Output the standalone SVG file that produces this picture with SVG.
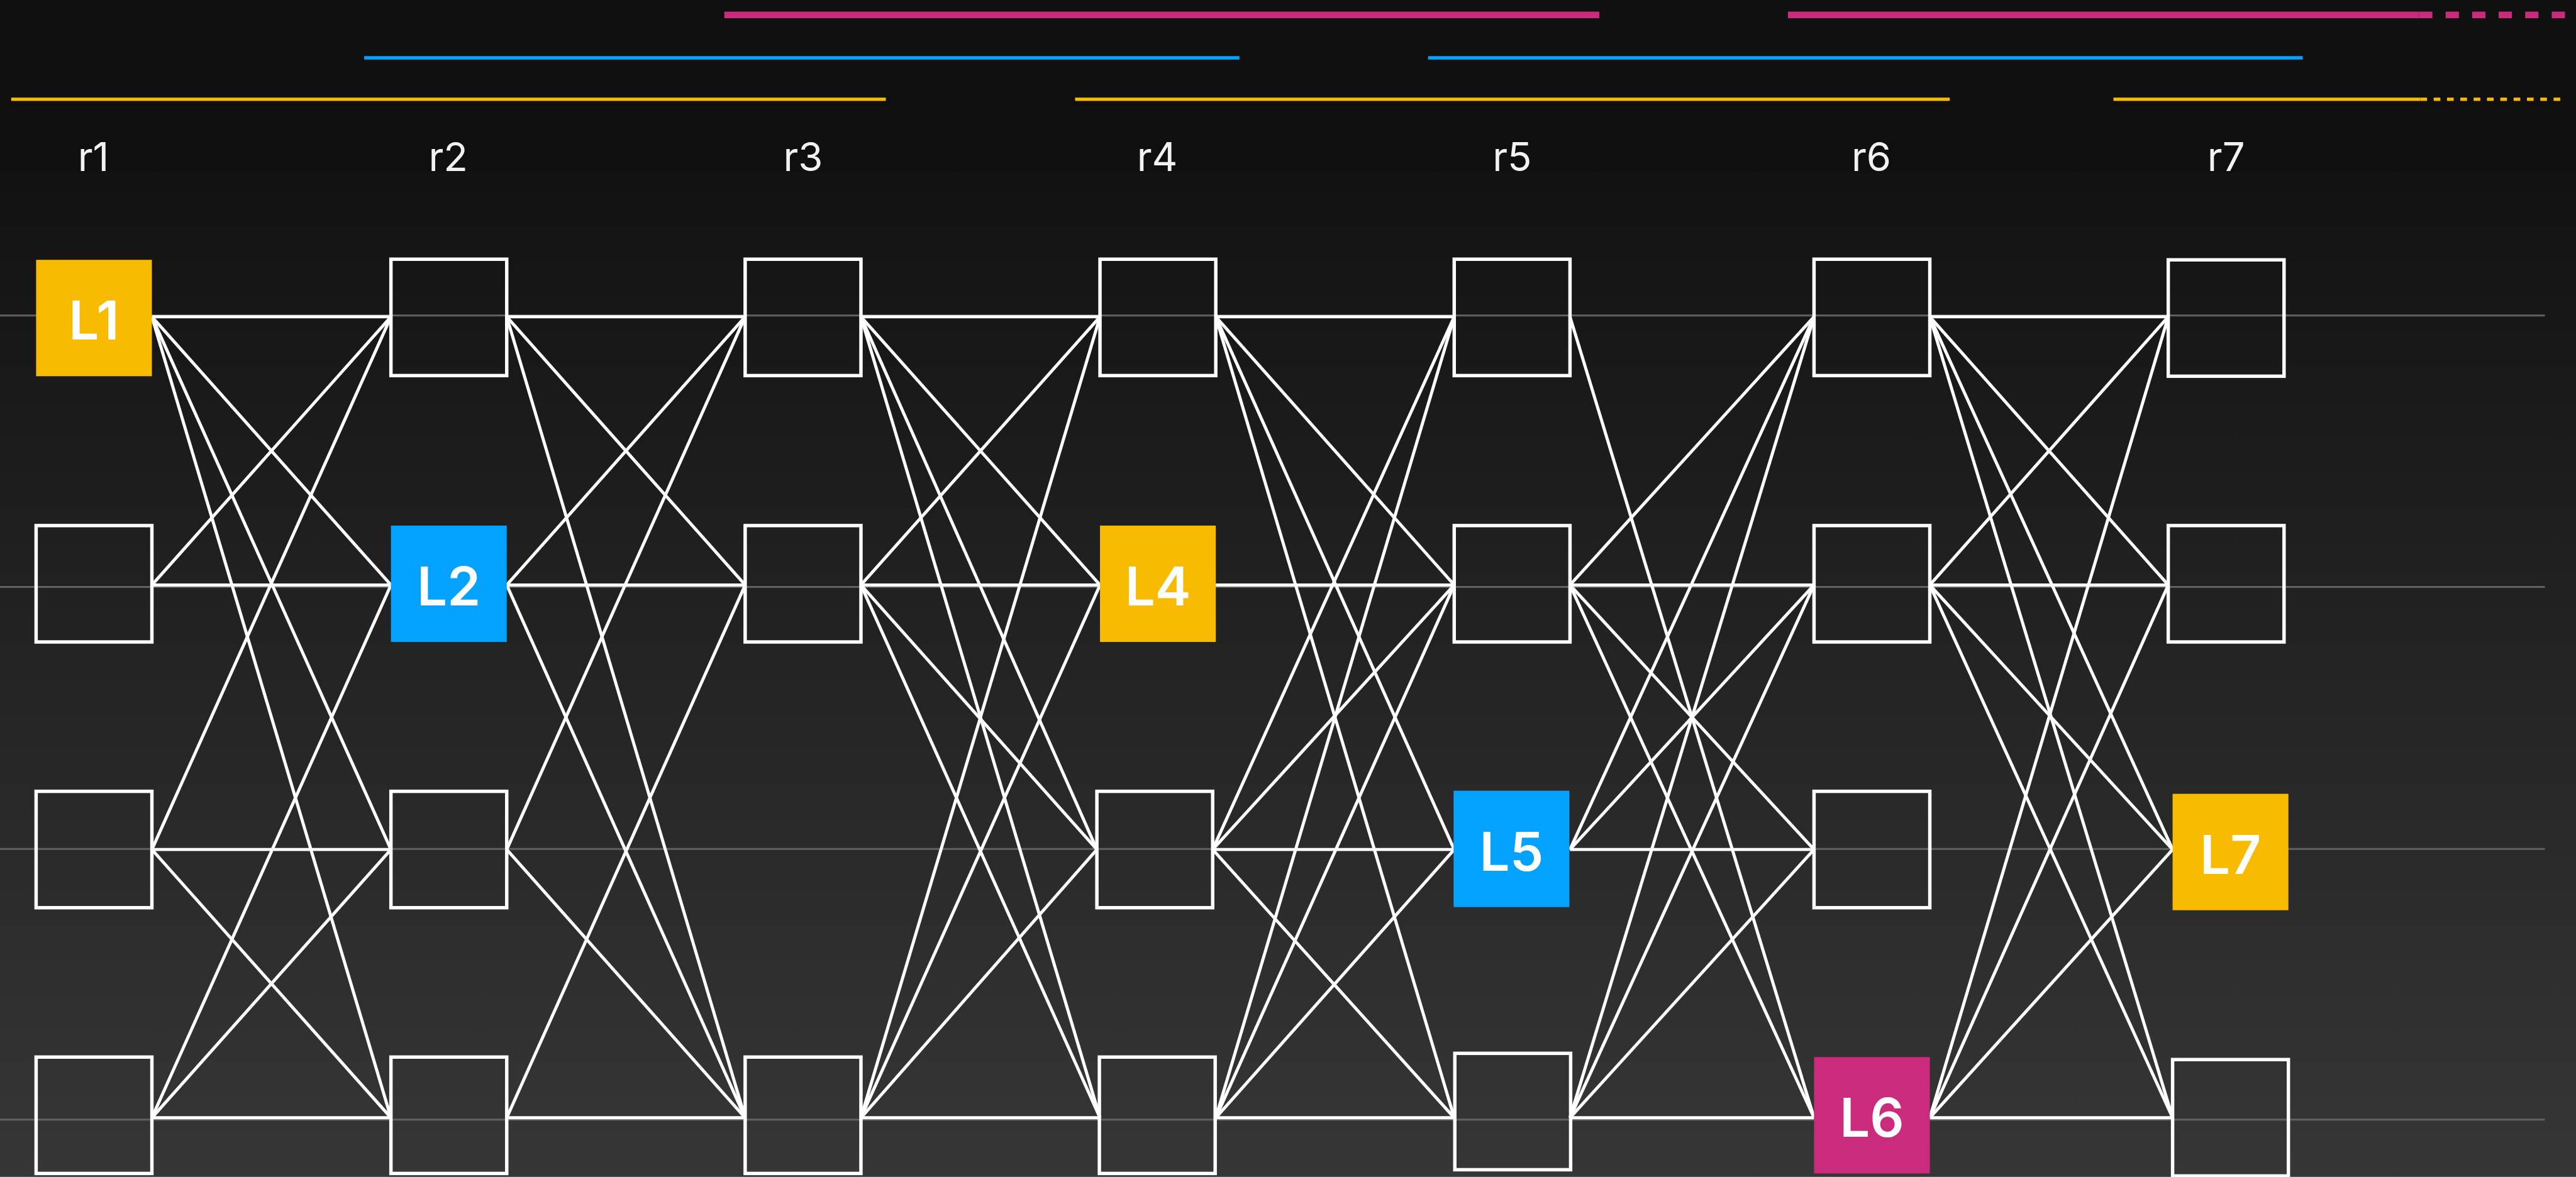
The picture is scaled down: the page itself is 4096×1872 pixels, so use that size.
<svg xmlns="http://www.w3.org/2000/svg" width="4096" height="1872" viewBox="0 0 4096 1872">
<defs>
<linearGradient id="bg" x1="0" y1="276" x2="0" y2="1891" gradientUnits="userSpaceOnUse">
<stop offset="0" stop-color="#121212"/>
<stop offset="1" stop-color="#363636"/>
</linearGradient>
<style>
.row{stroke:#626262;stroke-width:3;fill:none}
.box{fill:none;stroke:#ffffff;stroke-width:5.5}
.c{stroke:#ffffff;stroke-width:5;fill:none}
.rl{font-family:Inter,"Liberation Sans",sans-serif;font-size:64px;fill:#f2f2f2;text-anchor:middle}
.nl{font-family:Inter,"Liberation Sans",sans-serif;font-size:86px;font-weight:600;fill:#ffffff;text-anchor:middle}
.y{fill:#f8bb01}.b{fill:#02a2fe}.m{fill:#cb2b7c}
.ty{stroke:#f8bb01;stroke-width:5.5}.tb{stroke:#02a2fe;stroke-width:5.5}.tm{stroke:#cb2b7c;stroke-width:10.5}
</style>
</defs>
<g transform="scale(0.98985)">
<rect x="0" y="0" width="4138" height="1891" fill="url(#bg)"/>
<rect x="0" y="0" width="4138" height="276" fill="#0f0f0f"/>
<g id="timeline">
<line class="tm" x1="1163.5" y1="24" x2="2569" y2="24"/>
<line class="tm" x1="2872" y1="24" x2="3886" y2="24"/>
<line class="tm" x1="3886" y1="24" x2="4121" y2="24" stroke-dasharray="21.3 21.3"/>
<line class="tb" x1="585" y1="93" x2="1991" y2="93"/>
<line class="tb" x1="2294" y1="93" x2="3699" y2="93"/>
<line class="ty" x1="18" y1="159.5" x2="1423" y2="159.5"/>
<line class="ty" x1="1727" y1="159.5" x2="3132" y2="159.5"/>
<line class="ty" x1="3395" y1="159.5" x2="3888" y2="159.5"/>
<line class="ty" x1="3888" y1="159.5" x2="4121" y2="159.5" stroke-dasharray="10.7 10.7"/>
</g>
<g id="labels">
<text class="rl" x="150" y="275">r1</text>
<text class="rl" x="720" y="275">r2</text>
<text class="rl" x="1290" y="275">r3</text>
<text class="rl" x="1859" y="275">r4</text>
<text class="rl" x="2429" y="275">r5</text>
<text class="rl" x="3006" y="275">r6</text>
<text class="rl" x="3576" y="275">r7</text>
</g>
<g id="rows">
<line class="row" x1="0" y1="507" x2="4088" y2="507"/>
<line class="row" x1="0" y1="943" x2="4088" y2="943"/>
<line class="row" x1="0" y1="1364" x2="4088" y2="1364"/>
<line class="row" x1="0" y1="1799" x2="4088" y2="1799"/>
</g>
<g id="connectors">
<line class="c" x1="244" y1="509" x2="628" y2="509"/>
<line class="c" x1="244" y1="509" x2="628" y2="940"/>
<line class="c" x1="244" y1="509" x2="628" y2="1365"/>
<line class="c" x1="244" y1="509" x2="628" y2="1796"/>
<line class="c" x1="244" y1="940" x2="628" y2="509"/>
<line class="c" x1="244" y1="940" x2="628" y2="940"/>
<line class="c" x1="244" y1="1365" x2="628" y2="509"/>
<line class="c" x1="244" y1="1365" x2="628" y2="1365"/>
<line class="c" x1="244" y1="1365" x2="628" y2="1796"/>
<line class="c" x1="244" y1="1796" x2="628" y2="940"/>
<line class="c" x1="244" y1="1796" x2="628" y2="1365"/>
<line class="c" x1="244" y1="1796" x2="628" y2="1796"/>

<line class="c" x1="814" y1="509" x2="1197" y2="509"/>
<line class="c" x1="814" y1="509" x2="1197" y2="940"/>
<line class="c" x1="814" y1="509" x2="1197" y2="1796"/>
<line class="c" x1="814" y1="940" x2="1197" y2="509"/>
<line class="c" x1="814" y1="940" x2="1197" y2="940"/>
<line class="c" x1="814" y1="940" x2="1197" y2="1796"/>
<line class="c" x1="814" y1="1365" x2="1197" y2="509"/>
<line class="c" x1="814" y1="1365" x2="1197" y2="1796"/>
<line class="c" x1="814" y1="1796" x2="1197" y2="940"/>
<line class="c" x1="814" y1="1796" x2="1197" y2="1796"/>

<line class="c" x1="1383" y1="509" x2="1767" y2="509"/>
<line class="c" x1="1383" y1="509" x2="1767" y2="940"/>
<line class="c" x1="1383" y1="509" x2="1762" y2="1365"/>
<line class="c" x1="1383" y1="509" x2="1767" y2="1796"/>
<line class="c" x1="1383" y1="940" x2="1767" y2="509"/>
<line class="c" x1="1383" y1="940" x2="1767" y2="940"/>
<line class="c" x1="1383" y1="940" x2="1762" y2="1365"/>
<line class="c" x1="1383" y1="940" x2="1767" y2="1796"/>
<line class="c" x1="1383" y1="1796" x2="1767" y2="509"/>
<line class="c" x1="1383" y1="1796" x2="1767" y2="940"/>
<line class="c" x1="1383" y1="1796" x2="1762" y2="1365"/>
<line class="c" x1="1383" y1="1796" x2="1767" y2="1796"/>

<line class="c" x1="1953" y1="509" x2="2336" y2="509"/>
<line class="c" x1="1953" y1="509" x2="2336" y2="940"/>
<line class="c" x1="1953" y1="509" x2="2336" y2="1365"/>
<line class="c" x1="1953" y1="509" x2="2336" y2="1796"/>
<line class="c" x1="1953" y1="940" x2="2336" y2="940"/>
<line class="c" x1="1948" y1="1365" x2="2336" y2="509"/>
<line class="c" x1="1948" y1="1365" x2="2336" y2="940"/>
<line class="c" x1="1948" y1="1365" x2="2336" y2="1365"/>
<line class="c" x1="1948" y1="1365" x2="2336" y2="1796"/>
<line class="c" x1="1953" y1="1796" x2="2336" y2="509"/>
<line class="c" x1="1953" y1="1796" x2="2336" y2="940"/>
<line class="c" x1="1953" y1="1796" x2="2336" y2="1365"/>
<line class="c" x1="1953" y1="1796" x2="2336" y2="1796"/>

<line class="c" x1="2522" y1="509" x2="2914" y2="1796"/>
<line class="c" x1="2522" y1="940" x2="2914" y2="509"/>
<line class="c" x1="2522" y1="940" x2="2914" y2="940"/>
<line class="c" x1="2522" y1="940" x2="2914" y2="1365"/>
<line class="c" x1="2522" y1="940" x2="2914" y2="1796"/>
<line class="c" x1="2522" y1="1365" x2="2914" y2="509"/>
<line class="c" x1="2522" y1="1365" x2="2914" y2="940"/>
<line class="c" x1="2522" y1="1365" x2="2914" y2="1365"/>
<line class="c" x1="2522" y1="1796" x2="2914" y2="509"/>
<line class="c" x1="2522" y1="1796" x2="2914" y2="940"/>
<line class="c" x1="2522" y1="1796" x2="2914" y2="1365"/>
<line class="c" x1="2522" y1="1796" x2="2914" y2="1796"/>

<line class="c" x1="3100" y1="509" x2="3483" y2="509"/>
<line class="c" x1="3100" y1="509" x2="3483" y2="940"/>
<line class="c" x1="3100" y1="509" x2="3490" y2="1365"/>
<line class="c" x1="3100" y1="509" x2="3490" y2="1796"/>
<line class="c" x1="3100" y1="940" x2="3483" y2="509"/>
<line class="c" x1="3100" y1="940" x2="3483" y2="940"/>
<line class="c" x1="3100" y1="940" x2="3490" y2="1365"/>
<line class="c" x1="3100" y1="940" x2="3490" y2="1796"/>
<line class="c" x1="3100" y1="1796" x2="3483" y2="509"/>
<line class="c" x1="3100" y1="1796" x2="3483" y2="940"/>
<line class="c" x1="3100" y1="1796" x2="3490" y2="1365"/>
<line class="c" x1="3100" y1="1796" x2="3490" y2="1796"/>
</g>
<g id="n11"><rect class="y" x="58" y="417.5" width="186" height="187"/><text class="nl" x="151" y="546">L1</text></g>
<g id="n12"><rect class="box" x="58" y="844.5" width="186" height="187"/></g>
<g id="n13"><rect class="box" x="58" y="1271.5" width="186" height="187"/></g>
<g id="n14"><rect class="box" x="58" y="1698.5" width="186" height="187"/></g>
<g id="n21"><rect class="box" x="628" y="416.5" width="186" height="187"/></g>
<g id="n22"><rect class="b" x="628" y="844.5" width="186" height="187"/><text class="nl" x="721" y="973">L2</text></g>
<g id="n23"><rect class="box" x="628" y="1271.5" width="186" height="187"/></g>
<g id="n24"><rect class="box" x="628" y="1698.5" width="186" height="187"/></g>
<g id="n31"><rect class="box" x="1197" y="416.5" width="186" height="187"/></g>
<g id="n32"><rect class="box" x="1197" y="844.5" width="186" height="187"/></g>
<g id="n34"><rect class="box" x="1197" y="1698.5" width="186" height="187"/></g>
<g id="n41"><rect class="box" x="1767" y="416.5" width="186" height="187"/></g>
<g id="n42"><rect class="y" x="1767" y="844.5" width="186" height="187"/><text class="nl" x="1860" y="973">L4</text></g>
<g id="n43"><rect class="box" x="1762" y="1271.5" width="186" height="187"/></g>
<g id="n44"><rect class="box" x="1766" y="1698.5" width="186" height="187"/></g>
<g id="n51"><rect class="box" x="2336" y="416.5" width="186" height="187"/></g>
<g id="n52"><rect class="box" x="2336" y="844.5" width="186" height="187"/></g>
<g id="n53"><rect class="b" x="2335" y="1270.5" width="186" height="187"/><text class="nl" x="2428" y="1399">L5</text></g>
<g id="n54"><rect class="box" x="2337" y="1692.5" width="186" height="187"/></g>
<g id="n61"><rect class="box" x="2914" y="416.5" width="186" height="187"/></g>
<g id="n62"><rect class="box" x="2914" y="844.5" width="186" height="187"/></g>
<g id="n63"><rect class="box" x="2914" y="1271.5" width="186" height="187"/></g>
<g id="n64"><rect class="m" x="2914" y="1698.5" width="186" height="187"/><text class="nl" x="3007" y="1827">L6</text></g>
<g id="n71"><rect class="box" x="3483" y="417.5" width="186" height="187"/></g>
<g id="n72"><rect class="box" x="3483" y="844.5" width="186" height="187"/></g>
<g id="n73"><rect class="y" x="3490" y="1275.5" width="186" height="187"/><text class="nl" x="3583" y="1404">L7</text></g>
<g id="n74"><rect class="box" x="3490" y="1702.5" width="186" height="187"/></g>
</g>
</svg>
